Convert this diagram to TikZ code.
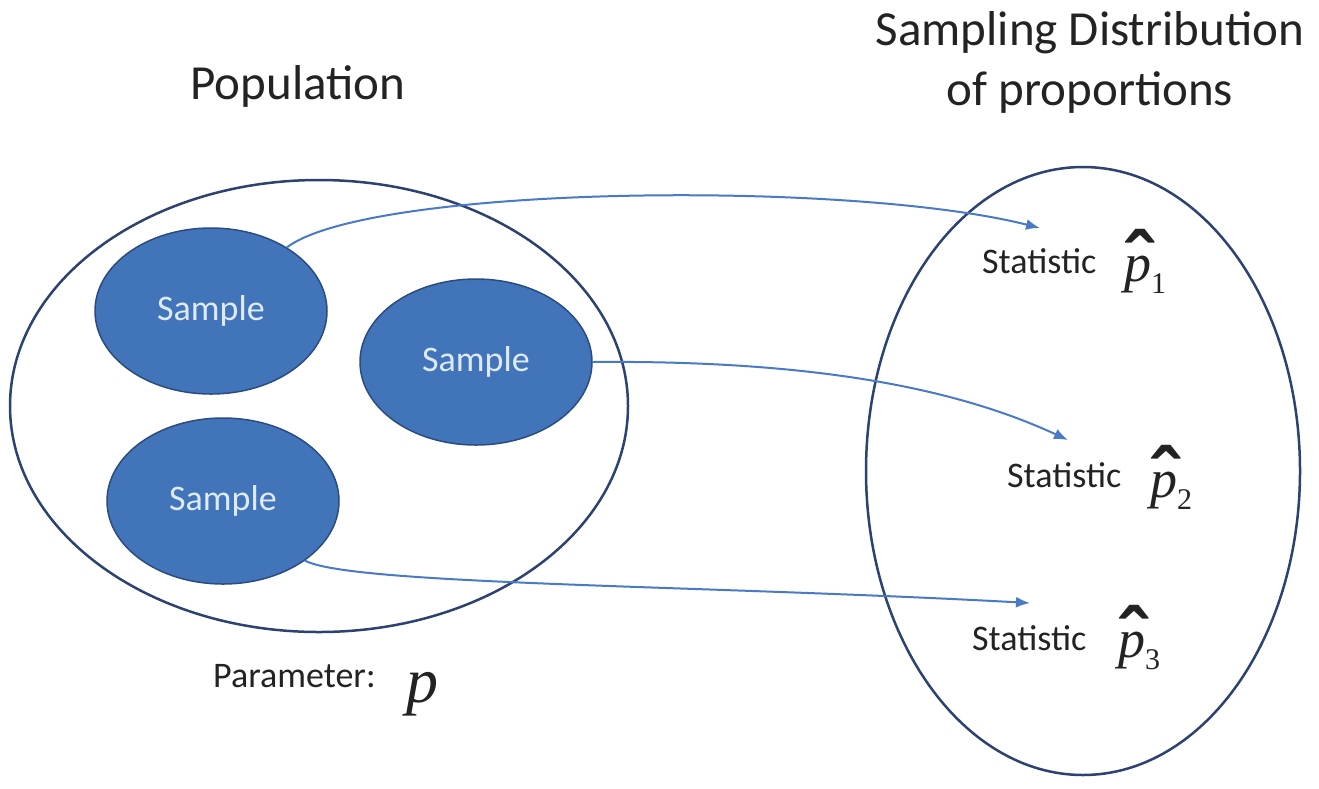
\documentclass[tikz,border=0pt]{standalone}
\usepackage{fontspec}
\setmainfont{Carlito}
\newfontfamily\pfont{Liberation Serif}
\newfontfamily\hatfont{Liberation Sans}
\usetikzlibrary{shapes.geometric,arrows.meta}
\definecolor{samplefill}{RGB}{66,116,186}
\definecolor{sampleedge}{RGB}{42,76,128}
\definecolor{outline}{RGB}{44,66,112}
\definecolor{arrowblue}{RGB}{72,122,198}
\definecolor{txt}{RGB}{35,35,35}
\definecolor{sampletxt}{RGB}{222,234,248}
\newcommand\phatsym[1]{{\pfont\itshape\fontsize{54}{54}\selectfont
  \rlap{\hspace{1pt}\raisebox{-9pt}{\hatfont\bfseries\upshape\fontsize{82}{82}\selectfont\symbol{"02C6}}}p}%
  {\pfont\upshape\fontsize{30}{30}\selectfont\raisebox{-12pt}{#1}}}
\begin{document}
\begin{tikzpicture}[x=1pt,y=-1pt,
  sample/.style={ellipse, fill=samplefill, draw=sampleedge, line width=1.5pt,
    minimum width=232pt, minimum height=166pt, inner sep=0pt,
    text=sampletxt, font=\fontsize{36}{40}\selectfont},
  popu/.style={ellipse, draw=outline, line width=2.5pt, inner sep=0pt},
  conn/.style={draw=arrowblue, line width=2pt, -{Latex[length=14pt,width=11pt]}},
  head/.style={font=\fontsize{49}{60}\selectfont, text=txt, align=center},
  lbl/.style={font=\fontsize{36}{40}\selectfont, text=txt, inner sep=0pt},
  mth/.style={text=txt, inner sep=0pt}]
\useasboundingbox[fill=white] (0,0) rectangle (1319,788);
% outer ellipses
\node[popu, minimum width=618pt, minimum height=452pt] (pop) at (319,406) {};
\node[popu, minimum width=434pt, minimum height=608pt] (dist) at (1083,471) {};
% headers
\node[head] (hpop) at (298,86) {Population};
\node[head] (hdist) at (1090,62) {Sampling Distribution\\of proportions};
% samples
\node[sample] (s1) at (211,311) {Sample};
\node[sample] (s2) at (476,362) {Sample};
\node[sample] (s3) at (223,501) {Sample};
% statistics
\node[lbl, anchor=base west] (st1) at (982,273) {Statistic};
\node[lbl, anchor=base west] (st2) at (1007,487) {Statistic};
\node[lbl, anchor=base west] (st3) at (972,650) {Statistic};
\node[mth, anchor=base west] (ph1) at (1124,281) {\phatsym{1}};
\node[mth, anchor=base west] (ph2) at (1150,497) {\phatsym{2}};
\node[mth, anchor=base west] (ph3) at (1118,657) {\phatsym{3}};
% parameter
\node[lbl, anchor=base west] (par) at (213,687) {Parameter:};
\node[mth, anchor=base west] (pp) at (406,702) {\pfont\itshape\fontsize{64}{64}\selectfont p};
% arrows
\coordinate (t1) at (1040,228);
\coordinate (t2) at (1068,440);
\coordinate (t3) at (1030,603);
\draw[conn] (s1.40) .. controls (370,185) and (850,180) .. (t1);
\draw[conn] (s2.east) .. controls (820,360) and (960,390) .. (t2);
\draw[conn] (s3.-36) .. controls (350,585) and (700,585) .. (t3);
\end{tikzpicture}
\end{document}
